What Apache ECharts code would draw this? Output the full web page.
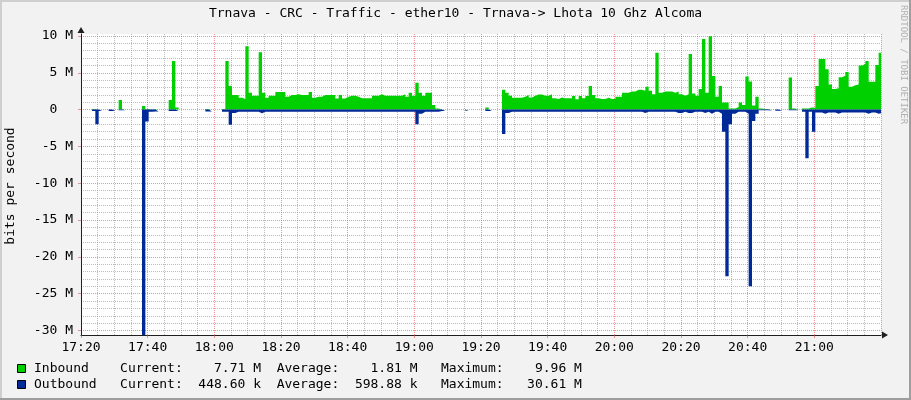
<!DOCTYPE html>
<html>
<head>
<meta charset="utf-8">
<script src="https://cdn.jsdelivr.net/npm/echarts@6/dist/echarts.min.js"></script>
<style>
html,body{margin:0;padding:0;background:#F2F2F2;}
#c{width:911px;height:400px;}
</style>
</head>
<body>
<div id="c"></div>
<script>
// ---- data (values in M bits/s, one sample per minute from 17:20) ----
const title = 'Trnava - CRC - Traffic - ether10 - Trnava-> Lhota 10 Ghz Alcoma';
const xTickLabels = ['17:20','17:40','18:00','18:20','18:40','19:00','19:20','19:40','20:00','20:20','20:40','21:00'];
const yTickValues = [10, 5, 0, -5, -10, -15, -20, -25, -30];
const yTickLabels = ['10 M', '5 M', '0  ', '-5 M', '-10 M', '-15 M', '-20 M', '-25 M', '-30 M'];

const inbound = [
  null,null,null,0.1,0,0,null,null,0,0,null,1.3,0.1,null,null,null,null,null,0.5,0.1,
  0,0.1,0,null,null,null,1.3,6.6,0.3,null,null,null,null,null,null,null,null,0.1,0,null,
  null,null,0.1,6.6,3.2,2.0,2.0,1.6,1.45,8.6,2.3,1.9,1.9,7.8,2.3,1.6,1.9,1.9,2.4,2.4,
  2.4,1.75,2.0,2.0,2.1,2.0,2.0,2.0,2.4,1.6,1.75,1.75,2.0,2.0,2.0,2.0,1.5,2.0,1.5,1.75,
  1.9,1.9,1.75,1.55,1.55,1.55,1.55,1.9,1.9,2.1,1.9,1.9,1.9,1.9,1.9,1.9,2.1,1.75,2.3,1.9,
  3.65,2.3,1.9,2.3,2.3,0.64,0.15,0,0,null,null,null,null,null,null,0,null,null,null,null,
  null,0.3,0,null,null,null,2.7,2.3,1.9,1.6,1.6,1.6,1.75,2.0,1.63,1.9,2.05,2.05,1.9,1.9,
  2.1,1.54,1.45,1.63,1.55,1.55,1.55,1.85,1.4,1.85,1.54,1.85,3.2,2.0,1.54,1.45,1.45,1.6,1.45,1.45,
  1.75,1.75,2.3,2.3,2.45,2.45,2.7,2.7,2.55,3.1,2.55,2.1,7.74,2.3,2.45,2.45,2.45,2.3,2.45,2.1,
  1.9,2.1,7.56,2.2,1.9,2.8,9.59,2.3,9.96,4.58,1.76,3.2,0.95,0.95,0.15,0.15,0.35,0.95,0.64,4.49,
  3.81,0.55,1.76,0.15,0.1,0.1,0,null,0,0,null,null,4.35,0.15,0,null,0.15,0.15,0.3,0.25,
  3.2,6.88,6.88,5.48,3.4,2.8,2.9,4.4,4.6,5.1,3.1,3.3,3.4,6.0,6.2,6.6,3.8,3.8,6.05,7.71
];
const outbound = [
  null,null,null,-0.2,-2.0,-0.2,null,null,-0.2,-0.2,null,-0.1,-0.1,null,null,null,null,null,-30.61,-1.6,
  -0.3,-0.25,-0.25,null,null,null,-0.2,-0.2,-0.2,null,null,null,null,null,null,null,null,-0.25,-0.25,null,
  null,null,-0.3,-0.3,-2.07,-0.45,-0.3,-0.3,-0.3,-0.3,-0.3,-0.3,-0.3,-0.5,-0.3,-0.3,-0.3,-0.3,-0.3,-0.3,
  -0.3,-0.3,-0.3,-0.3,-0.3,-0.3,-0.3,-0.3,-0.3,-0.3,-0.3,-0.3,-0.3,-0.3,-0.3,-0.3,-0.3,-0.3,-0.3,-0.3,
  -0.3,-0.3,-0.3,-0.3,-0.3,-0.3,-0.3,-0.3,-0.3,-0.3,-0.3,-0.3,-0.3,-0.3,-0.3,-0.3,-0.3,-0.3,-0.3,-0.3,
  -2.0,-0.55,-0.3,-0.3,-0.3,-0.3,-0.3,-0.2,-0.2,null,null,null,null,null,null,-0.15,null,null,null,null,
  null,-0.2,-0.2,null,null,null,-3.3,-0.45,-0.3,-0.3,-0.3,-0.3,-0.3,-0.3,-0.3,-0.3,-0.3,-0.3,-0.3,-0.3,
  -0.3,-0.3,-0.3,-0.3,-0.3,-0.3,-0.3,-0.3,-0.3,-0.3,-0.3,-0.3,-0.3,-0.3,-0.3,-0.3,-0.3,-0.3,-0.3,-0.3,
  -0.3,-0.3,-0.3,-0.3,-0.3,-0.3,-0.3,-0.3,-0.45,-0.3,-0.3,-0.3,-0.3,-0.3,-0.3,-0.3,-0.3,-0.3,-0.45,-0.45,
  -0.3,-0.45,-0.45,-0.3,-0.3,-0.3,-0.45,-0.3,-0.55,-0.3,-0.3,-0.55,-3.0,-22.63,-2.0,-0.55,-0.3,-0.3,-0.3,-0.55,
  -23.99,-1.55,-0.55,-0.1,-0.1,-0.1,-0.15,null,-0.15,-0.15,null,null,-0.1,-0.1,-0.1,null,-0.3,-6.6,-0.3,-3.0,
  -0.4,-0.4,-0.55,-0.4,-0.4,-0.4,-0.55,-0.4,-0.4,-0.4,-0.4,-0.4,-0.4,-0.4,-0.4,-0.55,-0.4,-0.4,-0.55,-0.45
];
const legendNames = ['Inbound', 'Outbound'];
const legendCurrent = ['7.71 M', '448.60 k'];
const legendAverage = ['1.81 M', '598.88 k'];
const legendMaximum = ['9.96 M', '30.61 M'];
const seriesColors = ['#00CF00', '#002A97'];

// ---- styling ----
const FONT = '"DejaVu Sans Mono", monospace';
const GRIDC = 'rgba(143,143,143,0.6)';
const MGRIDC = 'rgba(222,79,79,0.6)';
const AXISC = '#1F1F1F';
const PHASE = 0.3; // sample time offset in minutes

function stepData(vals) {
  const out = [];
  vals.forEach(function (v, k) {
    if (v === null) { out.push([k + PHASE, '-']); }
    else { out.push([k + PHASE, v], [k + 1 + PHASE, v]); }
  });
  return out;
}

function fmtVal(s) {
  const parts = s.split(' ');
  return parts[0].padStart(8, ' ') + ' ' + parts[1];
}
function legendRow(i) {
  return legendNames[i].padEnd(11, ' ') + 'Current:' + fmtVal(legendCurrent[i]) + '  ' +
    'Average:' + fmtVal(legendAverage[i]) + '   ' + 'Maximum:' + fmtVal(legendMaximum[i]);
}

const yMinor = [];
for (let v = -30; v <= 10; v++) { if (v % 5 !== 0) yMinor.push(v); }

const chart = echarts.init(document.getElementById('c'), null, { renderer: 'canvas', width: 911, height: 400 });

const rowY = [368.5, 384.5];
const Y_MIN = -30.61, Y_MAX = 10.27;

chart.setOption({
  animation: false,
  backgroundColor: '#F2F2F2',
  grid: { left: 81, top: 34, width: 800, height: 301, show: true, backgroundColor: '#FFFFFF', borderWidth: 0 },
  xAxis: {
    type: 'value', min: 0, max: 240, interval: 20,
    axisLine: { show: true, onZero: false, lineStyle: { color: AXISC, width: 1 },
      symbol: ['none', 'triangle'], symbolSize: [7, 6], symbolOffset: [0, 4] },
    axisTick: { show: true, length: 3, inside: false, lineStyle: { color: MGRIDC } },
    axisLabel: { show: true, margin: 6, color: '#000', fontFamily: FONT, fontSize: 13,
      showMaxLabel: false,
      formatter: function (v) { return xTickLabels[Math.round(v / 20)] || ''; } },
    splitLine: { show: true, lineStyle: { color: MGRIDC, type: [1, 1], width: 1 } },
    minorTick: { show: false, splitNumber: 4 },
    minorSplitLine: { show: true, lineStyle: { color: GRIDC, type: [1, 1], width: 1 } }
  },
  yAxis: [
    {
      type: 'value', min: Y_MIN, max: Y_MAX, z: 1,
      axisLine: { show: true, onZero: false, lineStyle: { color: AXISC, width: 1 },
        symbol: ['none', 'triangle'], symbolSize: [7, 6], symbolOffset: [0, 4] },
      axisTick: { show: true, length: 3, customValues: yTickValues, lineStyle: { color: MGRIDC } },
      axisLabel: { show: true, margin: 8, color: '#000', fontFamily: FONT, fontSize: 13,
        customValues: yTickValues,
        formatter: function (v) { const i = yTickValues.indexOf(v); return i >= 0 ? yTickLabels[i] : ''; } },
      splitLine: { show: true, lineStyle: { color: MGRIDC, type: [1, 1], width: 1 } }
    },
    {
      type: 'value', min: Y_MIN, max: Y_MAX, position: 'left', z: 0,
      axisLine: { show: false },
      axisTick: { show: false, customValues: yMinor },
      axisLabel: { show: false, customValues: yMinor },
      splitLine: { show: true, lineStyle: { color: GRIDC, type: [1, 1], width: 1 } }
    }
  ],
  series: [
    {
      type: 'line', name: legendNames[0], data: stepData(inbound), symbol: 'none', z: 3,
      connectNulls: false, lineStyle: { width: 0 },
      areaStyle: { color: seriesColors[0], opacity: 1, origin: 'auto' }, silent: true
    },
    {
      type: 'line', name: legendNames[1], data: stepData(outbound), symbol: 'none', z: 3,
      connectNulls: false, lineStyle: { width: 0 },
      areaStyle: { color: seriesColors[1], opacity: 1, origin: 'auto' }, silent: true
    }
  ],
  graphic: [
    { type: 'rect', shape: { x: 0, y: 0, width: 911, height: 2 }, style: { fill: '#CFCFCF' }, silent: true },
    { type: 'rect', shape: { x: 0, y: 0, width: 2, height: 400 }, style: { fill: '#CFCFCF' }, silent: true },
    { type: 'rect', shape: { x: 909, y: 0, width: 2, height: 400 }, style: { fill: '#9E9E9E' }, silent: true },
    { type: 'rect', shape: { x: 0, y: 398, width: 911, height: 2 }, style: { fill: '#9E9E9E' }, silent: true },
    { type: 'text', x: 455.5, y: 14, silent: true,
      style: { text: title, font: '13px ' + FONT, fill: '#000', align: 'center', verticalAlign: 'middle' } },
    { type: 'text', x: 11, y: 186, rotation: Math.PI / 2, silent: true,
      style: { text: 'bits per second', font: '13px ' + FONT, fill: '#000', align: 'center', verticalAlign: 'middle' } },
    { type: 'text', x: 903, y: 5, rotation: -Math.PI / 2, silent: true,
      style: { text: 'RRDTOOL / TOBI OETIKER', font: '9px ' + FONT, fill: '#B0B0B0', align: 'left', verticalAlign: 'middle' } },
    { type: 'rect', shape: { x: 17.5, y: rowY[0] - 4, width: 8, height: 8 }, style: { fill: seriesColors[0], stroke: '#000', lineWidth: 1 }, silent: true },
    { type: 'rect', shape: { x: 17.5, y: rowY[1] - 4, width: 8, height: 8 }, style: { fill: seriesColors[1], stroke: '#000', lineWidth: 1 }, silent: true },
    { type: 'text', x: 34, y: rowY[0], silent: true,
      style: { text: legendRow(0), font: '13px ' + FONT, fill: '#000', align: 'left', verticalAlign: 'middle' } },
    { type: 'text', x: 34, y: rowY[1], silent: true,
      style: { text: legendRow(1), font: '13px ' + FONT, fill: '#000', align: 'left', verticalAlign: 'middle' } }
  ]
});
</script>
</body>
</html>
